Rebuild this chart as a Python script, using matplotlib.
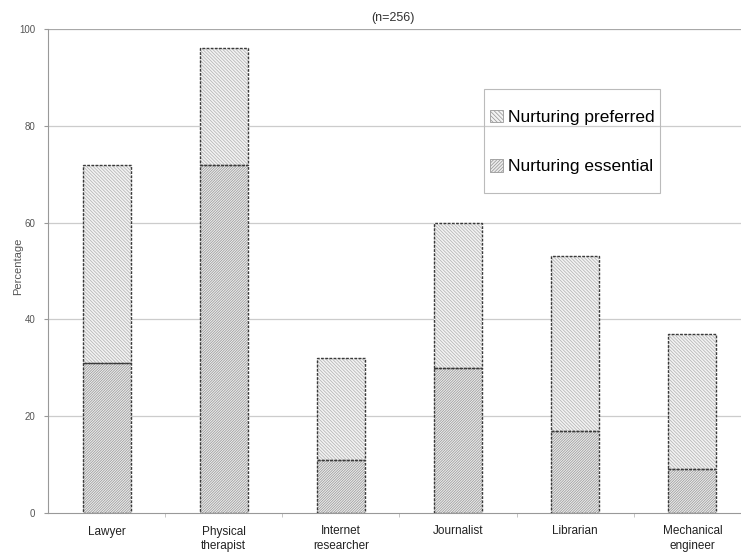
import matplotlib
matplotlib.use('Agg')
import matplotlib.pyplot as plt
from matplotlib.patches import Patch, Rectangle
import numpy as np

# data
jobs = ['Lawyer', 'Physical\ntherapist', 'Internet\nresearcher', 'Journalist', 'Librarian', 'Mechanical\nengineer']
essential = [31, 72, 11, 30, 17, 9]
total = [72, 96, 32, 60, 53, 37]
preferred = [t - e for t, e in zip(total, essential)]
yticks = [0, 20, 40, 60, 80, 100]


def main():
    plt.rcParams['font.family'] = ['Liberation Sans', 'DejaVu Sans']
    plt.rcParams['hatch.linewidth'] = 0.55

    fig = plt.figure(figsize=(7.41, 5.6), dpi=100)
    ax = fig.add_axes([48 / 741, 47 / 560, 703 / 741, 484 / 560])

    x = np.arange(len(jobs))
    w = 0.41
    hatch_ess = '/' * 13
    hatch_pref = '\\' * 10

    # gridlines first so the bars sit above them
    for y in yticks[1:]:
        ax.axhline(y, color='#cccccc' if y < 100 else '#a8a8a8', lw=0.9, zorder=0)

    # hatched fills (hatch takes the edge colour, so edges are drawn separately)
    ax.bar(x, essential, w, color='#ececec', edgecolor='#9c9c9c', hatch=hatch_ess, lw=0, zorder=2)
    ax.bar(x, preferred, w, bottom=essential, color='#f3f3f3', edgecolor='#b4b4b4', hatch=hatch_pref, lw=0, zorder=2)
    # dotted outlines
    ax.bar(x, essential, w, fill=False, edgecolor='#3a3a3a', lw=1.0, linestyle=(0, (2, 1)), zorder=3)
    ax.bar(x, preferred, w, bottom=essential, fill=False, edgecolor='#3a3a3a', lw=1.0, linestyle=(0, (2, 1)), zorder=3)

    ax.set_xlim(-0.5, 5.5)
    ax.set_ylim(0, 100)
    ax.set_yticks(yticks)
    ax.set_yticklabels([str(v) for v in yticks], fontsize=7, color='#555555')
    ax.set_xticks(x)
    ax.set_xticklabels(jobs, fontsize=8.5, color='#222222', linespacing=1.25)
    ax.set_xticks(np.arange(len(jobs) - 1) + 0.5, minor=True)
    ax.tick_params(axis='x', which='major', length=0, pad=9)
    ax.tick_params(axis='x', which='minor', length=3, color='#bbbbbb')
    ax.tick_params(axis='y', length=3, color='#999999', pad=6)

    for s in ['top', 'right']:
        ax.spines[s].set_visible(False)
    ax.spines['left'].set_color('#999999')
    ax.spines['bottom'].set_color('#999999')

    ax.set_ylabel('Percentage', fontsize=8, color='#555555')
    ax.yaxis.set_label_coords(-0.036, 0.51)
    fig.text(0.53, 1 - 18 / 560, '(n=256)', ha='center', va='center', fontsize=9, color='#333333')

    handles = [
        Patch(facecolor='#f3f3f3', edgecolor='#999999', hatch='\\' * 8, lw=0.6),
        Patch(facecolor='#ececec', edgecolor='#999999', hatch='/' * 10, lw=0.6),
    ]
    fig.legend(handles, ['Nurturing preferred', 'Nurturing essential'],
               loc='center left', bbox_to_anchor=(490 / 741, 1 - 142 / 560),
               fontsize=12.5, frameon=False, borderpad=0,
               labelspacing=1.94, handlelength=0.75, handleheight=0.75, handletextpad=0.3,
               borderaxespad=0)
    # legend box drawn as its own frame (taller than matplotlib's padding gives)
    fig.patches.append(Rectangle((484 / 741, 1 - 193 / 560), 176 / 741, 104 / 560,
                                 transform=fig.transFigure, fill=False,
                                 edgecolor='#bbbbbb', lw=0.8))

    fig.savefig('out.png', dpi=100)


if __name__ == "__main__":
    main()
